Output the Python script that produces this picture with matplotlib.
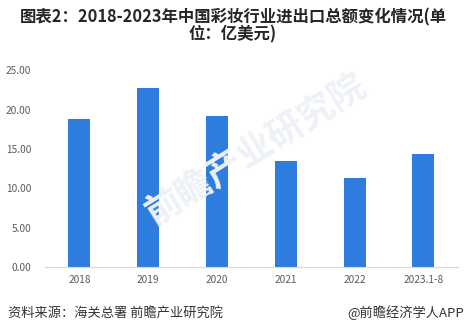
import matplotlib.pyplot as plt

plt.rcParams['font.family'] = ['Noto Sans CJK SC', 'DejaVu Sans']

# data
years = ['2018', '2019', '2020', '2021', '2022', '2023.1-8']
values = [18.8, 22.7, 19.2, 13.45, 11.3, 14.35]
yticks = [0, 5, 10, 15, 20, 25]

fig = plt.figure(figsize=(4.66, 3.34), dpi=100)
ax = fig.add_axes([0.0966, 0.2006, 0.886, 0.589])

ax.bar(range(len(years)), values, width=0.32, color='#2E7CDE', zorder=2)
ax.set_xlim(-0.5, len(years) - 0.5)
ax.set_ylim(0, 25)
ax.set_yticks(yticks)
ax.set_yticklabels(['%.2f' % v for v in yticks])
ax.set_xticks(range(len(years)))
ax.set_xticklabels(years)
ax.tick_params(axis='both', length=0, labelsize=7.3, colors='#595959', pad=6)
ax.tick_params(axis='y', pad=10)
for s in ['top', 'right', 'left']:
    ax.spines[s].set_visible(False)
ax.spines['bottom'].set_color('#D9D9D9')

# watermark
fig.text(0.55, 0.55, '前瞻产业研究院', fontsize=26, color='#EEF1F5', rotation=32,
         ha='center', va='center', fontweight='bold', zorder=0)

# title
fig.text(0.5, 0.947, '图表2：2018-2023年中国彩妆行业进出口总额变化情况(单',
         ha='center', va='center', fontsize=11.8, fontweight='bold', color='#262626')
fig.text(0.5, 0.897, '位：亿美元)', ha='center', va='center', fontsize=11.8,
         fontweight='bold', color='#262626')

# footer
fig.text(0.017, 0.063, '资料来源：海关总署 前瞻产业研究院', ha='left', va='center',
         fontsize=9.5, color='#333333')
fig.text(0.995, 0.063, '@前瞻经济学人APP', ha='right', va='center',
         fontsize=9.5, color='#333333')

fig.savefig('out.png', dpi=100)
